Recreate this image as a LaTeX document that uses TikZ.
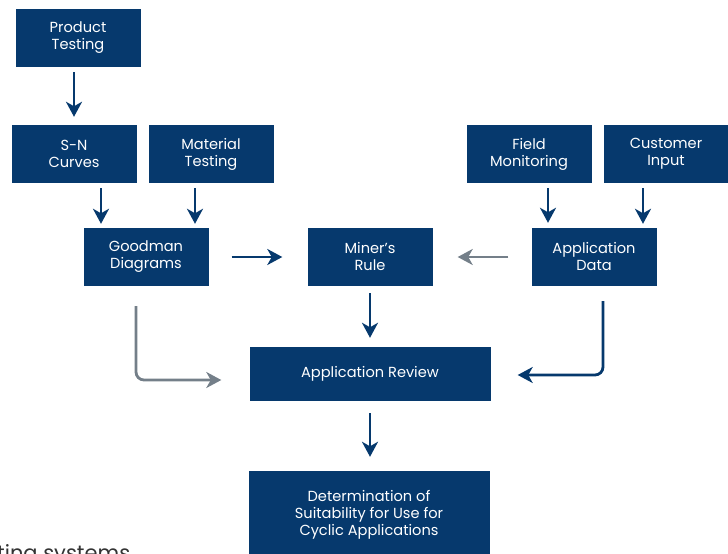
\documentclass[tikz,border=0pt]{standalone}
\usepackage{fontspec}
\setmainfont{Poppins}
\usetikzlibrary{arrows.meta}
\definecolor{navy}{HTML}{06396D}
\definecolor{greyarrow}{HTML}{747F89}
\tikzset{
box/.style={
 fill=navy,
 text=white,
 minimum width=125pt,
 minimum height=58pt,
 inner sep=2pt,
 align=center,
 font=\fontsize{14.6}{17}\selectfont
 },
widebox/.style={
 box,
 minimum width=241pt,
 minimum height=54pt
 },
flow/.style={
 draw=navy,
 line width=2.8pt,
 -{Stealth[length=15pt,width=16pt,inset=4.5pt]}
 },
back/.style={
 flow,
 draw=greyarrow
 }
}

\begin{document}
\begin{tikzpicture}[x=1pt,y=-1pt]
\useasboundingbox (0,0) rectangle (728,554);
\clip (0,0) rectangle (728,554);
% top row
\node[box] (prodtest) at (78,38) {Product\\Testing};
\node[box] (sncurves) at (74,154) {S-N\\Curves};
\node[box] (mattest) at (211,154) {Material\\Testing};
\node[box] (fieldmon) at (529,154) {Field\\Monitoring};
\node[box] (custin) at (666,154) {Customer\\Input};
% middle row
\node[box] (goodman) at (146,257) {Goodman\\Diagrams};
\node[box] (miner) at (370,257) {Miner’s\\Rule};
\node[box] (appdata) at (594,257) {Application\\Data};
% bottom
\node[widebox] (review) at (370,374) {Application Review};
\node[widebox, minimum height=88pt] (suitab) at (369,515) {Determination of\\Suitability for Use for\\Cyclic Applications};
\node[anchor=base west, inner sep=0pt, text=black!80, font=\fontsize{21}{24}\selectfont] (cutnote) at (-3,560) {ting systems};
% arrows
\draw[flow, shorten <=5pt, shorten >=8pt] (sncurves.north |- prodtest.south) -- (sncurves.north);
\draw[flow, shorten <=5pt, shorten >=4pt] ([xshift=27pt]sncurves.south) -- ([xshift=27pt]sncurves.south |- goodman.north);
\draw[flow, shorten <=5pt, shorten >=4pt] ([xshift=-16pt]mattest.south) -- ([xshift=-16pt]mattest.south |- goodman.north);
\draw[flow, shorten <=5pt, shorten >=5pt] ([xshift=19pt]fieldmon.south) -- ([xshift=19pt]fieldmon.south |- appdata.north);
\draw[flow, shorten <=5pt, shorten >=4pt] ([xshift=-23pt]custin.south) -- ([xshift=-23pt]custin.south |- appdata.north);
\draw[flow, shorten <=23pt, shorten >=25pt] (goodman) -- (miner);
\draw[back, shorten <=23pt, shorten >=25pt] (appdata) -- (miner);
\draw[flow, shorten <=7pt, shorten >=9pt] (miner) -- (review);
\draw[flow, shorten <=12pt, shorten >=14pt] (review) -- (review.south |- suitab.north);
\draw[back, rounded corners=8pt, shorten <=20pt, shorten >=28pt] ([xshift=-10pt]goodman.south) |- ([yshift=-6pt]review.west);
\draw[flow, rounded corners=8pt, shorten <=15pt, shorten >=27pt] ([xshift=9pt]appdata.south) |- ([yshift=-1pt]review.east);
\end{tikzpicture}
\end{document}
